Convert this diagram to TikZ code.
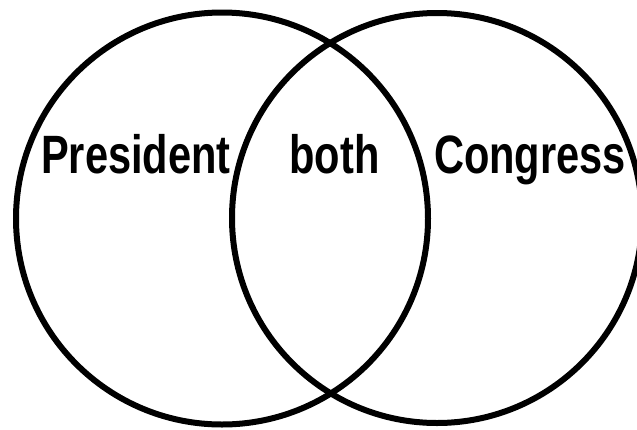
\documentclass[tikz,border=0pt]{standalone}
\usepackage{fontspec}
\setmainfont{Liberation Sans}[FakeStretch=0.77]
\begin{document}
\begin{tikzpicture}[x=1pt,y=-1pt,
  setcircle/.style={draw=black,line width=6pt},
  setlabel/.style={anchor=base,inner sep=0pt,font=\fontsize{54}{60}\selectfont\bfseries}]
\useasboundingbox (0,0) rectangle (637,429);
\clip (0,0) rectangle (637,429);
\fill[white] (0,0) rectangle (637,429);
\node[setcircle,circle,minimum size=412pt,inner sep=0pt] (pres) at (222,218.5) {};
\node[setcircle,circle,minimum size=410pt,inner sep=0pt] (cong) at (437,218) {};
\node[setlabel] (presl) at (136,173) {President};
\node[setlabel] (bothl) at (334.5,173) {both};
\node[setlabel] (congl) at (530,173) {Congress};
\end{tikzpicture}
\end{document}
